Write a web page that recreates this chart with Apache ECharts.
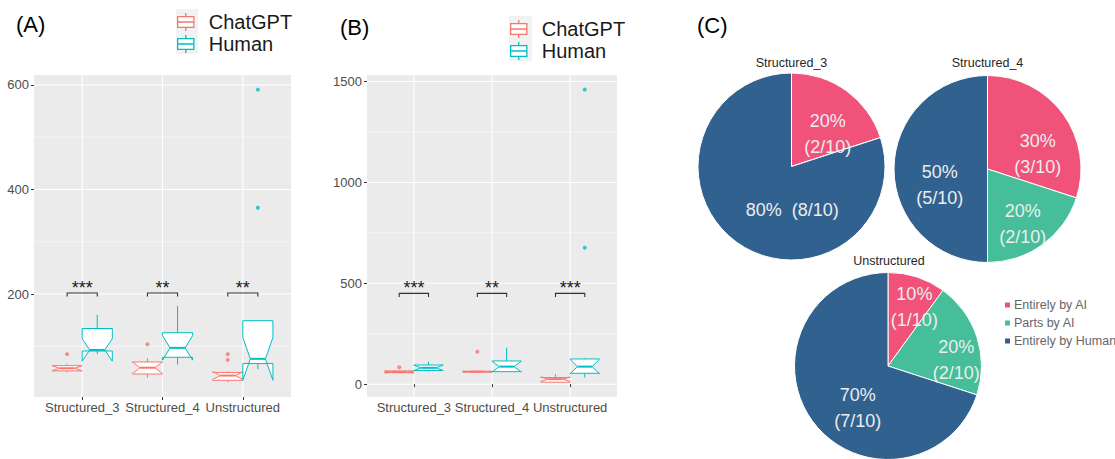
<!DOCTYPE html>
<html><head><meta charset="utf-8">
<script src="https://cdn.jsdelivr.net/npm/echarts@6/dist/echarts.min.js"></script>
<style>html,body{margin:0;padding:0;background:#fff}#c{width:1115px;height:459px}</style>
</head><body><div id="c"></div>
<script>
// ---------------- DATA ----------------
const categories = ['Structured_3', 'Structured_4', 'Unstructured'];
const groups = ['ChatGPT', 'Human'];
// five-number summaries per category: [min, q1, median, q3, max]
const gptA = [[50, 53, 58, 63, 66], [40, 47, 59, 70, 77], [31, 35, 44, 50, 52]];
const humanA = [[85, 91, 93, 134, 160], [65, 79, 97, 126, 177], [56, 67, 76, 149, 149]];
const gptAOutliers = [[0, 85], [1, 104], [2, 85], [2, 74]];      // [category index, value]
const humanAOutliers = [[2, 591], [2, 365]];
const gptB = [[56, 57, 60, 66, 68], [58, 60, 62, 64, 66], [9, 10, 25, 33, 51]];
const humanB = [[62, 68, 81, 95, 112], [60, 62, 87, 115, 181], [33, 54, 87, 125, 129]];
const gptBOutliers = [[0, 84], [1, 161]];
const humanBOutliers = [[2, 1460], [2, 676]];
const sigA = ['***', '**', '**'];
const sigB = ['***', '**', '***'];
const sigHeightA = 202;
const sigHeightB = 450;
const ticksA = [200, 400, 600];
const minorA = [100, 300, 500];
const ticksB = [0, 500, 1000, 1500];
const minorB = [250, 750, 1250];
const sampleSize = 10;
const pieCats = ['Entirely by AI', 'Parts by AI', 'Entirely by Human'];
const pieTitles = ['Structured_3', 'Structured_4', 'Unstructured'];
const pieS3 = [2, 0, 8];
const pieS4 = [3, 2, 5];
const pieUn = [1, 2, 7];

// ---------------- STYLE ----------------
const FONT = 'Liberation Sans, Arial, sans-serif';
const COL = { ChatGPT: '#F8766D', Human: '#00BFC4' };
const pieColors = ['#F0527A', '#46BE99', '#31628F'];
const dodge = 0.1875, halfW = 0.1875;

function extent(sets) {
  let lo = Infinity, hi = -Infinity;
  sets.forEach(s => s.forEach(r => {
    const vals = r.length === 2 ? [r[1]] : r;
    vals.forEach(v => { lo = Math.min(lo, v); hi = Math.max(hi, v); });
  }));
  const pad = (hi - lo) * 0.05;
  return [lo - pad, hi + pad];
}
const extA = extent([gptA, humanA, gptAOutliers, humanAOutliers]);
const extB = extent([gptB, humanB, gptBOutliers, humanBOutliers]);

function gridRender(params, api) {
  const cs = params.coordSys;
  const kind = api.value(0), v = api.value(1);
  if (kind === 2) {
    const p = api.coord([v, extA[0]]);
    return { type: 'line', shape: { x1: p[0], y1: cs.y, x2: p[0], y2: cs.y + cs.height }, style: { stroke: '#fff', lineWidth: 1.1 } };
  }
  const p = api.coord([1, v]);
  return { type: 'line', shape: { x1: cs.x, y1: p[1], x2: cs.x + cs.width, y2: p[1] }, style: { stroke: '#fff', lineWidth: kind === 0 ? 1.1 : 0.5 } };
}
function gridSeries(idx, major, minor) {
  const data = major.map(v => [0, v]).concat(minor.map(v => [1, v])).concat(categories.map((c, i) => [2, i + 1]));
  return { type: 'custom', xAxisIndex: idx, yAxisIndex: idx, silent: true, z: 0, renderItem: gridRender, data: data };
}

function boxSeries(name, rows, idx, sign) {
  const color = COL[name];
  return {
    name: name, type: 'custom', xAxisIndex: idx, yAxisIndex: idx, silent: true, z: 3,
    itemStyle: { color: '#fff', borderColor: color },
    data: rows.map((r, i) => [i + 1 + sign * dodge].concat(r)),
    renderItem: function (params, api) {
      const x = api.value(0), mn = api.value(1), q1 = api.value(2), md = api.value(3), q3 = api.value(4), mx = api.value(5);
      const notch = 1.58 * (q3 - q1) / Math.sqrt(sampleSize);
      const nl = md - notch, nu = md + notch;
      const L = x - halfW, R = x + halfW, inset = halfW / 2;
      const P = (a, b) => api.coord([a, b]);
      const poly = [P(L, q3), P(L, nu), P(L + inset, md), P(L, nl), P(L, q1), P(R, q1), P(R, nl), P(R - inset, md), P(R, nu), P(R, q3)];
      const ln = (a, b) => ({ type: 'line', shape: { x1: a[0], y1: a[1], x2: b[0], y2: b[1] }, style: { stroke: color, lineWidth: 1 } });
      return {
        type: 'group', children: [
          ln(P(x, q3), P(x, mx)),
          ln(P(x, q1), P(x, mn)),
          { type: 'polygon', shape: { points: poly }, style: { fill: '#fff', stroke: color, lineWidth: 1 } },
          { type: 'line', shape: { x1: P(L + inset, md)[0], y1: P(L + inset, md)[1], x2: P(R - inset, md)[0], y2: P(R - inset, md)[1] }, style: { stroke: color, lineWidth: 2 } }
        ]
      };
    }
  };
}
function outlierSeries(name, pts, idx, sign) {
  return {
    name: name, type: 'scatter', xAxisIndex: idx, yAxisIndex: idx, silent: true, z: 4,
    symbolSize: 4, itemStyle: { color: COL[name] },
    data: pts.map(p => [p[0] + 1 + sign * dodge, p[1]])
  };
}
function sigSeries(labels, height, idx) {
  return {
    type: 'custom', xAxisIndex: idx, yAxisIndex: idx, silent: true, z: 5,
    data: labels.map((s, i) => [i + 1, height]),
    renderItem: function (params, api) {
      const x = api.value(0), y = api.value(1);
      const a = api.coord([x - dodge, y]), b = api.coord([x + dodge, y]);
      return {
        type: 'group', children: [
          { type: 'polyline', shape: { points: [[a[0], a[1] + 3.5], a, b, [b[0], b[1] + 3.5]] }, style: { stroke: '#333', lineWidth: 1.1, fill: null } },
          { type: 'text', x: (a[0] + b[0]) / 2, y: a[1] - 5, style: { text: labels[params.dataIndex], align: 'center', verticalAlign: 'middle', font: '18px ' + FONT, fill: '#1a1a1a' } }
        ]
      };
    }
  };
}

function xAxisFor(idx) {
  return {
    type: 'value', gridIndex: idx, min: 0.4, max: 3.6,
    axisLine: { show: false }, splitLine: { show: false },
    axisTick: { show: true, customValues: [1, 2, 3], length: 3, lineStyle: { color: '#333', width: 1 } },
    axisLabel: { customValues: [1, 2, 3], formatter: v => categories[Math.round(v) - 1] || '', fontSize: 13, color: '#4D4D4D', fontFamily: FONT, margin: 4 }
  };
}
function yAxisFor(idx, ext, ticks) {
  return {
    type: 'value', gridIndex: idx, min: ext[0], max: ext[1],
    axisLine: { show: false }, splitLine: { show: false },
    axisTick: { show: true, customValues: ticks, length: 3, lineStyle: { color: '#333', width: 1 } },
    axisLabel: { customValues: ticks, formatter: v => String(Math.round(v)), fontSize: 13, color: '#4D4D4D', fontFamily: FONT, margin: 5 }
  };
}

const boxIcon = 'path://M10,0 L10,4 M1,4 L19,4 L19,16 L1,16 Z M1,10 L19,10 M10,16 L10,20';
function boxLegend(left, top) {
  return {
    orient: 'vertical', left: left, top: top, padding: 0, itemGap: 2, itemWidth: 20, itemHeight: 18,
    selectedMode: false,
    textStyle: { fontSize: 20, color: '#1a1a1a', fontFamily: FONT, padding: [0, 0, 0, 8] },
    data: groups.map(g => ({ name: g, icon: boxIcon, itemStyle: { color: '#fff', borderColor: COL[g], borderWidth: 1.3 } }))
  };
}

// pie label offsets (style, tuned to the reference layout)
const pieLayouts = [
  { center: [791.5, 166.5], offsets: [[7, 8], [0, 0], [30, 3]], oneLine: 2 },
  { center: [987.5, 169], offsets: [[10, 14], [6, 15], [2, 16]], oneLine: -1 },
  { center: [888, 366], offsets: [[11, -12], [21, 9], [10, 13]], oneLine: -1 }
];
function pieSeries(vals, k) {
  const lay = pieLayouts[k];
  const total = vals.reduce((a, b) => a + b, 0);
  return {
    type: 'pie', name: pieTitles[k], center: lay.center, radius: 93.5, startAngle: 90, clockwise: true,
    silent: true, animation: false,
    itemStyle: { borderColor: '#fff', borderWidth: 1 },
    labelLine: { show: false },
    data: pieCats.map((n, i) => ({
      name: n, value: vals[i], itemStyle: { color: pieColors[i] },
      label: {
        show: vals[i] > 0, position: 'inside', offset: lay.offsets[i],
        color: '#EDEDED', fontSize: 18, lineHeight: 26, fontFamily: FONT,
        formatter: Math.round(100 * vals[i] / total) + '%' + (i === lay.oneLine ? '  ' : '\n') + '(' + vals[i] + '/' + total + ')'
      }
    }))
  };
}

const chart = echarts.init(document.getElementById('c'), null, { renderer: 'svg' });
chart.setOption({
  animation: false,
  backgroundColor: '#fff',
  grid: [
    { left: 34, top: 75, width: 257, height: 322, show: true, backgroundColor: '#EBEBEB', borderWidth: 0 },
    { left: 367, top: 75, width: 250, height: 322, show: true, backgroundColor: '#EBEBEB', borderWidth: 0 }
  ],
  xAxis: [xAxisFor(0), xAxisFor(1)],
  yAxis: [yAxisFor(0, extA, ticksA), yAxisFor(1, extB, ticksB)],
  title: [
    { text: '(A)', left: 11, top: 8, textStyle: { fontSize: 22, fontWeight: 'normal', color: '#000', fontFamily: FONT } },
    { text: '(B)', left: 335, top: 11, textStyle: { fontSize: 22, fontWeight: 'normal', color: '#000', fontFamily: FONT } },
    { text: '(C)', left: 692, top: 9, textStyle: { fontSize: 22, fontWeight: 'normal', color: '#000', fontFamily: FONT } }
  ],
  legend: [
    boxLegend(177, 12),
    boxLegend(510, 19),
    {
      orient: 'vertical', left: 1003, top: 298, padding: 0, itemGap: 4, itemWidth: 7, itemHeight: 7, icon: 'rect',
      selectedMode: false, data: pieCats,
      textStyle: { fontSize: 12.5, lineHeight: 14, color: '#666', fontFamily: FONT, padding: [0, 0, 0, -2] }
    }
  ],
  graphic: [
    { type: 'rect', z: 0, shape: { x: 176, y: 9, width: 22, height: 45 }, style: { fill: '#F2F2F2' } },
    { type: 'rect', z: 0, shape: { x: 509, y: 16, width: 23, height: 45 }, style: { fill: '#F2F2F2' } },
    { type: 'text', x: 791.5, y: 63, style: { text: pieTitles[0], align: 'center', verticalAlign: 'middle', font: '12.5px ' + FONT, fill: '#262626' } },
    { type: 'text', x: 987.5, y: 63, style: { text: pieTitles[1], align: 'center', verticalAlign: 'middle', font: '12.5px ' + FONT, fill: '#262626' } },
    { type: 'text', x: 889, y: 261, style: { text: pieTitles[2], align: 'center', verticalAlign: 'middle', font: '12.5px ' + FONT, fill: '#262626' } }
  ],
  series: [
    gridSeries(0, ticksA, minorA),
    gridSeries(1, ticksB, minorB),
    boxSeries('ChatGPT', gptA, 0, -1),
    boxSeries('Human', humanA, 0, 1),
    boxSeries('ChatGPT', gptB, 1, -1),
    boxSeries('Human', humanB, 1, 1),
    outlierSeries('ChatGPT', gptAOutliers, 0, -1),
    outlierSeries('Human', humanAOutliers, 0, 1),
    outlierSeries('ChatGPT', gptBOutliers, 1, -1),
    outlierSeries('Human', humanBOutliers, 1, 1),
    sigSeries(sigA, sigHeightA, 0),
    sigSeries(sigB, sigHeightB, 1),
    pieSeries(pieS3, 0),
    pieSeries(pieS4, 1),
    pieSeries(pieUn, 2)
  ]
});
</script>
</body></html>
